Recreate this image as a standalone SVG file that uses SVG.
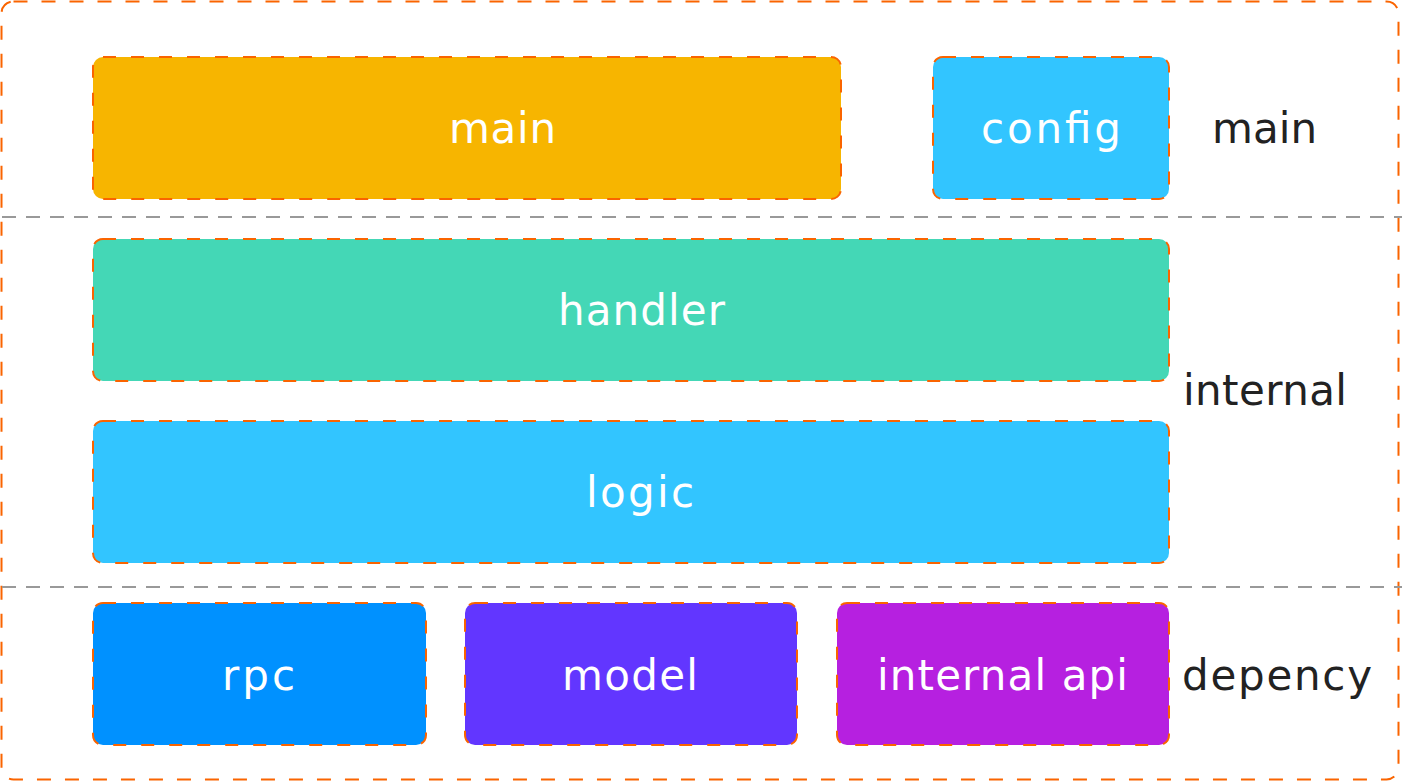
<svg xmlns="http://www.w3.org/2000/svg" width="1402" height="782" viewBox="0 0 1402 782">
<style>
.node{stroke:#FA6400;stroke-width:2;stroke-dasharray:13 15}
.lbl{font-family:"DejaVu Sans",Verdana,sans-serif;font-size:42px;fill:#FFFFFF}
.side{font-family:"DejaVu Sans",Verdana,sans-serif;font-size:42px;fill:#222222}
.sep{stroke:#999999;stroke-width:2;stroke-dasharray:14 10;fill:none}
</style>
<rect width="1402" height="782" fill="#FFFFFF"/>
<rect id="frame" x="1.5" y="1.5" width="1397" height="778" rx="12" fill="none" stroke="#FA6400" stroke-width="2" stroke-dasharray="14 14"/>
<g id="separators">
<line class="sep" x1="2" y1="217" x2="1402" y2="217"/>
<line class="sep" x1="2" y1="587" x2="1402" y2="587"/>
</g>
<g id="node-main"><rect class="node" x="93" y="57" width="748" height="142" rx="10" fill="#F7B500"/><text class="lbl" x="449" y="143" textLength="107" lengthAdjust="spacing">main</text></g>
<g id="node-config"><rect class="node" x="933" y="57" width="236" height="142" rx="10" fill="#32C5FF"/><text class="lbl" x="981" y="143" textLength="140" lengthAdjust="spacing">config</text></g>
<g id="node-handler"><rect class="node" x="93" y="239" width="1076" height="142" rx="10" fill="#44D7B6"/><text class="lbl" x="558" y="325" textLength="167" lengthAdjust="spacing">handler</text></g>
<g id="node-logic"><rect class="node" x="93" y="421" width="1076" height="142" rx="10" fill="#32C5FF"/><text class="lbl" x="586" y="507" textLength="108" lengthAdjust="spacing">logic</text></g>
<g id="node-rpc"><rect class="node" x="93" y="603" width="333" height="142" rx="10" fill="#0091FF"/><text class="lbl" x="222" y="690" textLength="73" lengthAdjust="spacing">rpc</text></g>
<g id="node-model"><rect class="node" x="465" y="603" width="332" height="142" rx="10" fill="#6236FF"/><text class="lbl" x="562" y="690" textLength="136" lengthAdjust="spacing">model</text></g>
<g id="node-internal-api"><rect class="node" x="837" y="603" width="332" height="142" rx="10" fill="#B620E0"/><text class="lbl" x="877" y="690" textLength="251" lengthAdjust="spacing">internal api</text></g>
<g id="layer-labels">
<text class="side" x="1212" y="143" textLength="105" lengthAdjust="spacing">main</text>
<text class="side" x="1183" y="405" textLength="164" lengthAdjust="spacing">internal</text>
<text class="side" x="1182" y="690" textLength="190" lengthAdjust="spacing">depency</text>
</g>
<g id="connectors"></g>
</svg>
